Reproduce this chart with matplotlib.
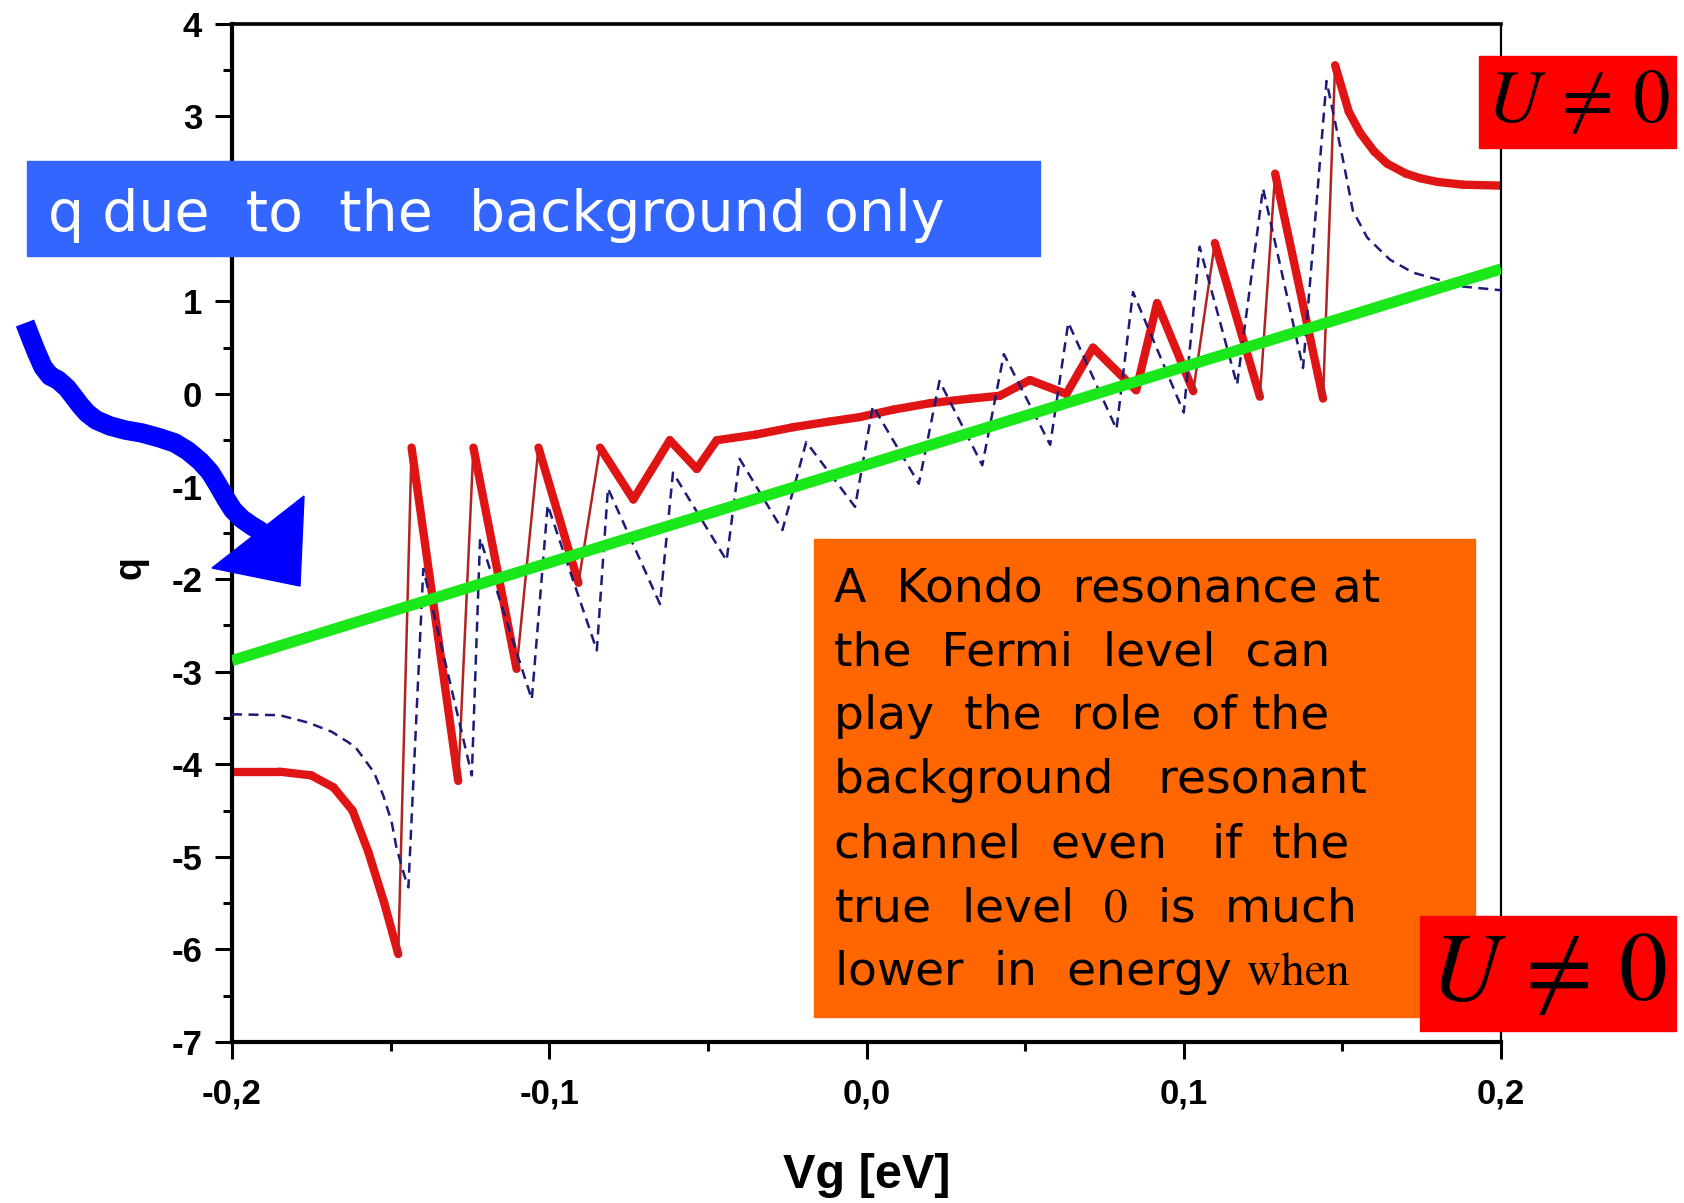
import numpy as np
import matplotlib
matplotlib.use('Agg')
import matplotlib.pyplot as plt
from matplotlib.collections import LineCollection
from matplotlib.patches import Rectangle, Polygon

plt.rcParams['mathtext.fontset'] = 'stix'

# q(Vg), red thick curve (U != 0)
red_vg = [-0.200, -0.185, -0.175, -0.168, -0.162, -0.157, -0.152, -0.1476, -0.1434, -0.1287,
          -0.1239, -0.1103, -0.1034, -0.0908, -0.0840, -0.0735, -0.0620, -0.0535, -0.0472, -0.0350,
          -0.0232, -0.0120, -0.0021, 0.0084, 0.0200, 0.0330, 0.0420, 0.0515, 0.0630, 0.0714,
          0.0850, 0.0916, 0.1030, 0.1098, 0.1240, 0.1288, 0.1439, 0.1477, 0.1520, 0.1556,
          0.1600, 0.1640, 0.1700, 0.1745, 0.1800, 0.1880, 0.2000]
red_q = [-4.08, -4.08, -4.12, -4.25, -4.50, -4.95, -5.50, -6.05, -0.58, -4.18,
         -0.58, -2.97, -0.58, -2.04, -0.58, -1.14, -0.50, -0.81, -0.50, -0.44,
         -0.36, -0.30, -0.25, -0.17, -0.10, -0.05, -0.02, 0.15, 0.00, 0.50,
         0.04, 0.98, 0.03, 1.63, -0.03, 2.38, -0.05, 3.55, 3.05, 2.82,
         2.62, 2.49, 2.38, 2.33, 2.29, 2.26, 2.25]

# q(Vg), blue dashed curve
blue_vg = [-0.200, -0.185, -0.176, -0.1685, -0.1612, -0.1552, -0.1523, -0.1497, -0.1481, -0.1455,
           -0.1444, -0.1397, -0.1244, -0.1218, -0.1055, -0.1005, -0.0850, -0.0815, -0.0651, -0.0610,
           -0.0441, -0.0400, -0.0265, -0.0190, -0.0036, 0.0020, 0.0165, 0.0230, 0.0365, 0.0433,
           0.0579, 0.0636, 0.0788, 0.0840, 0.1000, 0.1050, 0.1168, 0.1250, 0.1376, 0.1450,
           0.1502, 0.1533, 0.1578, 0.1650, 0.1723, 0.1880, 0.2000]
blue_q = [-3.46, -3.47, -3.55, -3.65, -3.81, -4.09, -4.34, -4.62, -4.91, -5.22,
          -5.33, -1.89, -4.12, -1.56, -3.30, -1.20, -2.77, -1.02, -2.27, -0.85,
          -1.80, -0.70, -1.47, -0.52, -1.22, -0.13, -0.97, 0.14, -0.77, 0.43,
          -0.55, 0.77, -0.38, 1.10, -0.20, 1.59, 0.10, 2.22, 0.28, 3.38,
          2.53, 1.98, 1.69, 1.45, 1.31, 1.16, 1.12]

# q due to the background only (green)
green_vg = [-0.2, 0.2]
green_q = [-2.88, 1.35]

x_ticks = [-0.2, -0.1, 0.0, 0.1, 0.2]
x_labels = ['-0,2', '-0,1', '0,0', '0,1', '0,2']
x_minor = [-0.15, -0.05, 0.05, 0.15]
y_ticks = list(range(-7, 5))
y_labels = ['' if v == 2 else str(v) for v in y_ticks]  # "2" sits under the blue box
y_minor = [v + 0.5 for v in range(-7, 4)]

box_lines = ['A  Kondo  resonance at',
             'the  Fermi  level  can',
             'play  the  role  of the',
             'background   resonant',
             'channel  even   if  the',
             r'true  level  $0$  is  much',
             r'lower  in  energy $\mathrm{when}$']

W, H = 1684, 1203
fig = plt.figure(figsize=(W / 100, H / 100), dpi=100)
ax = fig.add_axes([232 / W, 1 - 1042 / H, (1501 - 232) / W, (1042 - 23.6) / H])
ax.set_xlim(-0.2, 0.2)
ax.set_ylim(-7, 4)

# red curve: thin on the steep jumps, thick elsewhere
pts = np.column_stack([red_vg, red_q])
segs = np.stack([pts[:-1], pts[1:]], axis=1)
slope = np.diff(red_q) / np.diff(red_vg)
steep = slope > 200
lc = LineCollection(segs, linewidths=np.where(steep, 1.8, 6.0),
                    colors=np.where(steep, '#B02424', '#E01414'),
                    capstyle='round', joinstyle='round', zorder=2)
ax.add_collection(lc)

ax.plot(blue_vg, blue_q, color='#1C1C78', lw=1.8, dashes=(4, 2.6), zorder=3)
ax.plot(green_vg, green_q, color='#1AE81A', lw=8, solid_capstyle='butt', zorder=4)

tick_font = ['Liberation Sans', 'DejaVu Sans']
ax.set_xticks(x_ticks, x_labels, fontfamily=tick_font, fontweight='bold', fontsize=25)
ax.set_yticks(y_ticks, y_labels, fontfamily=tick_font, fontweight='bold', fontsize=25)
ax.set_xticks(x_minor, minor=True)
ax.set_yticks(y_minor, minor=True)
ax.tick_params(which='major', direction='out', length=12.5, width=2.2)
ax.tick_params(which='minor', direction='out', length=6.5, width=2.2)
ax.tick_params(axis='x', pad=13)
ax.tick_params(axis='y', pad=9)
for s, w in [('left', 3), ('bottom', 3), ('top', 2.6), ('right', 1.6)]:
    ax.spines[s].set_linewidth(w)

ax.set_xlabel('Vg [eV]', fontfamily=tick_font, fontweight='bold', fontsize=35, va='center')
ax.xaxis.set_label_coords(0.5, -0.131)
ax.set_ylabel('q', fontfamily=tick_font, fontweight='bold', fontsize=27)
ax.yaxis.set_label_coords(-0.066, 0.466)

# overlay in pixel coordinates for the boxes and the arrow
ov = fig.add_axes([0, 0, 1, 1], zorder=10)
ov.set_xlim(0, W)
ov.set_ylim(H, 0)
ov.axis('off')

ov.add_patch(Rectangle((27, 161), 1013, 95, color='#3366FF'))
ov.text(48, 231, 'q due  to  the  background only', color='white',
        fontsize=41, family='DejaVu Sans', va='baseline')

ov.add_patch(Rectangle((814, 539), 661, 478, color='#FF6600'))
for i, line in enumerate(box_lines):
    ov.text(834, 601 + 64 * i, line, color='black', fontsize=34,
            family='DejaVu Sans', va='baseline')

ov.add_patch(Rectangle((1479, 56), 197, 92, color='#FF0000'))
ov.text(1578, 102, r'$U\,\neq\,0$', fontsize=54, ha='center', va='center')
ov.add_patch(Rectangle((1420, 916), 256, 115, color='#FF0000'))
ov.text(1548, 973, r'$U\,\neq\,0$', fontsize=70, ha='center', va='center')

# hand drawn blue arrow
arrow_x = [25, 30, 36, 43, 50, 58, 67, 74, 80, 87, 96, 110, 125, 142, 160, 175, 188,
           200, 210, 218, 226, 233, 242, 252, 262]
arrow_y = [323, 336, 351, 367, 376, 380, 388, 397, 405, 413, 420, 426, 430, 433, 438, 443, 451,
           461, 472, 485, 499, 510, 519, 526, 532]
ov.plot(arrow_x, arrow_y, color='#0000FF', lw=14, solid_capstyle='butt',
        solid_joinstyle='round')
ov.add_patch(Polygon([(304, 496), (300, 586), (212, 568)], closed=True, color='#0000FF'))

fig.savefig('out.png', dpi=100)
